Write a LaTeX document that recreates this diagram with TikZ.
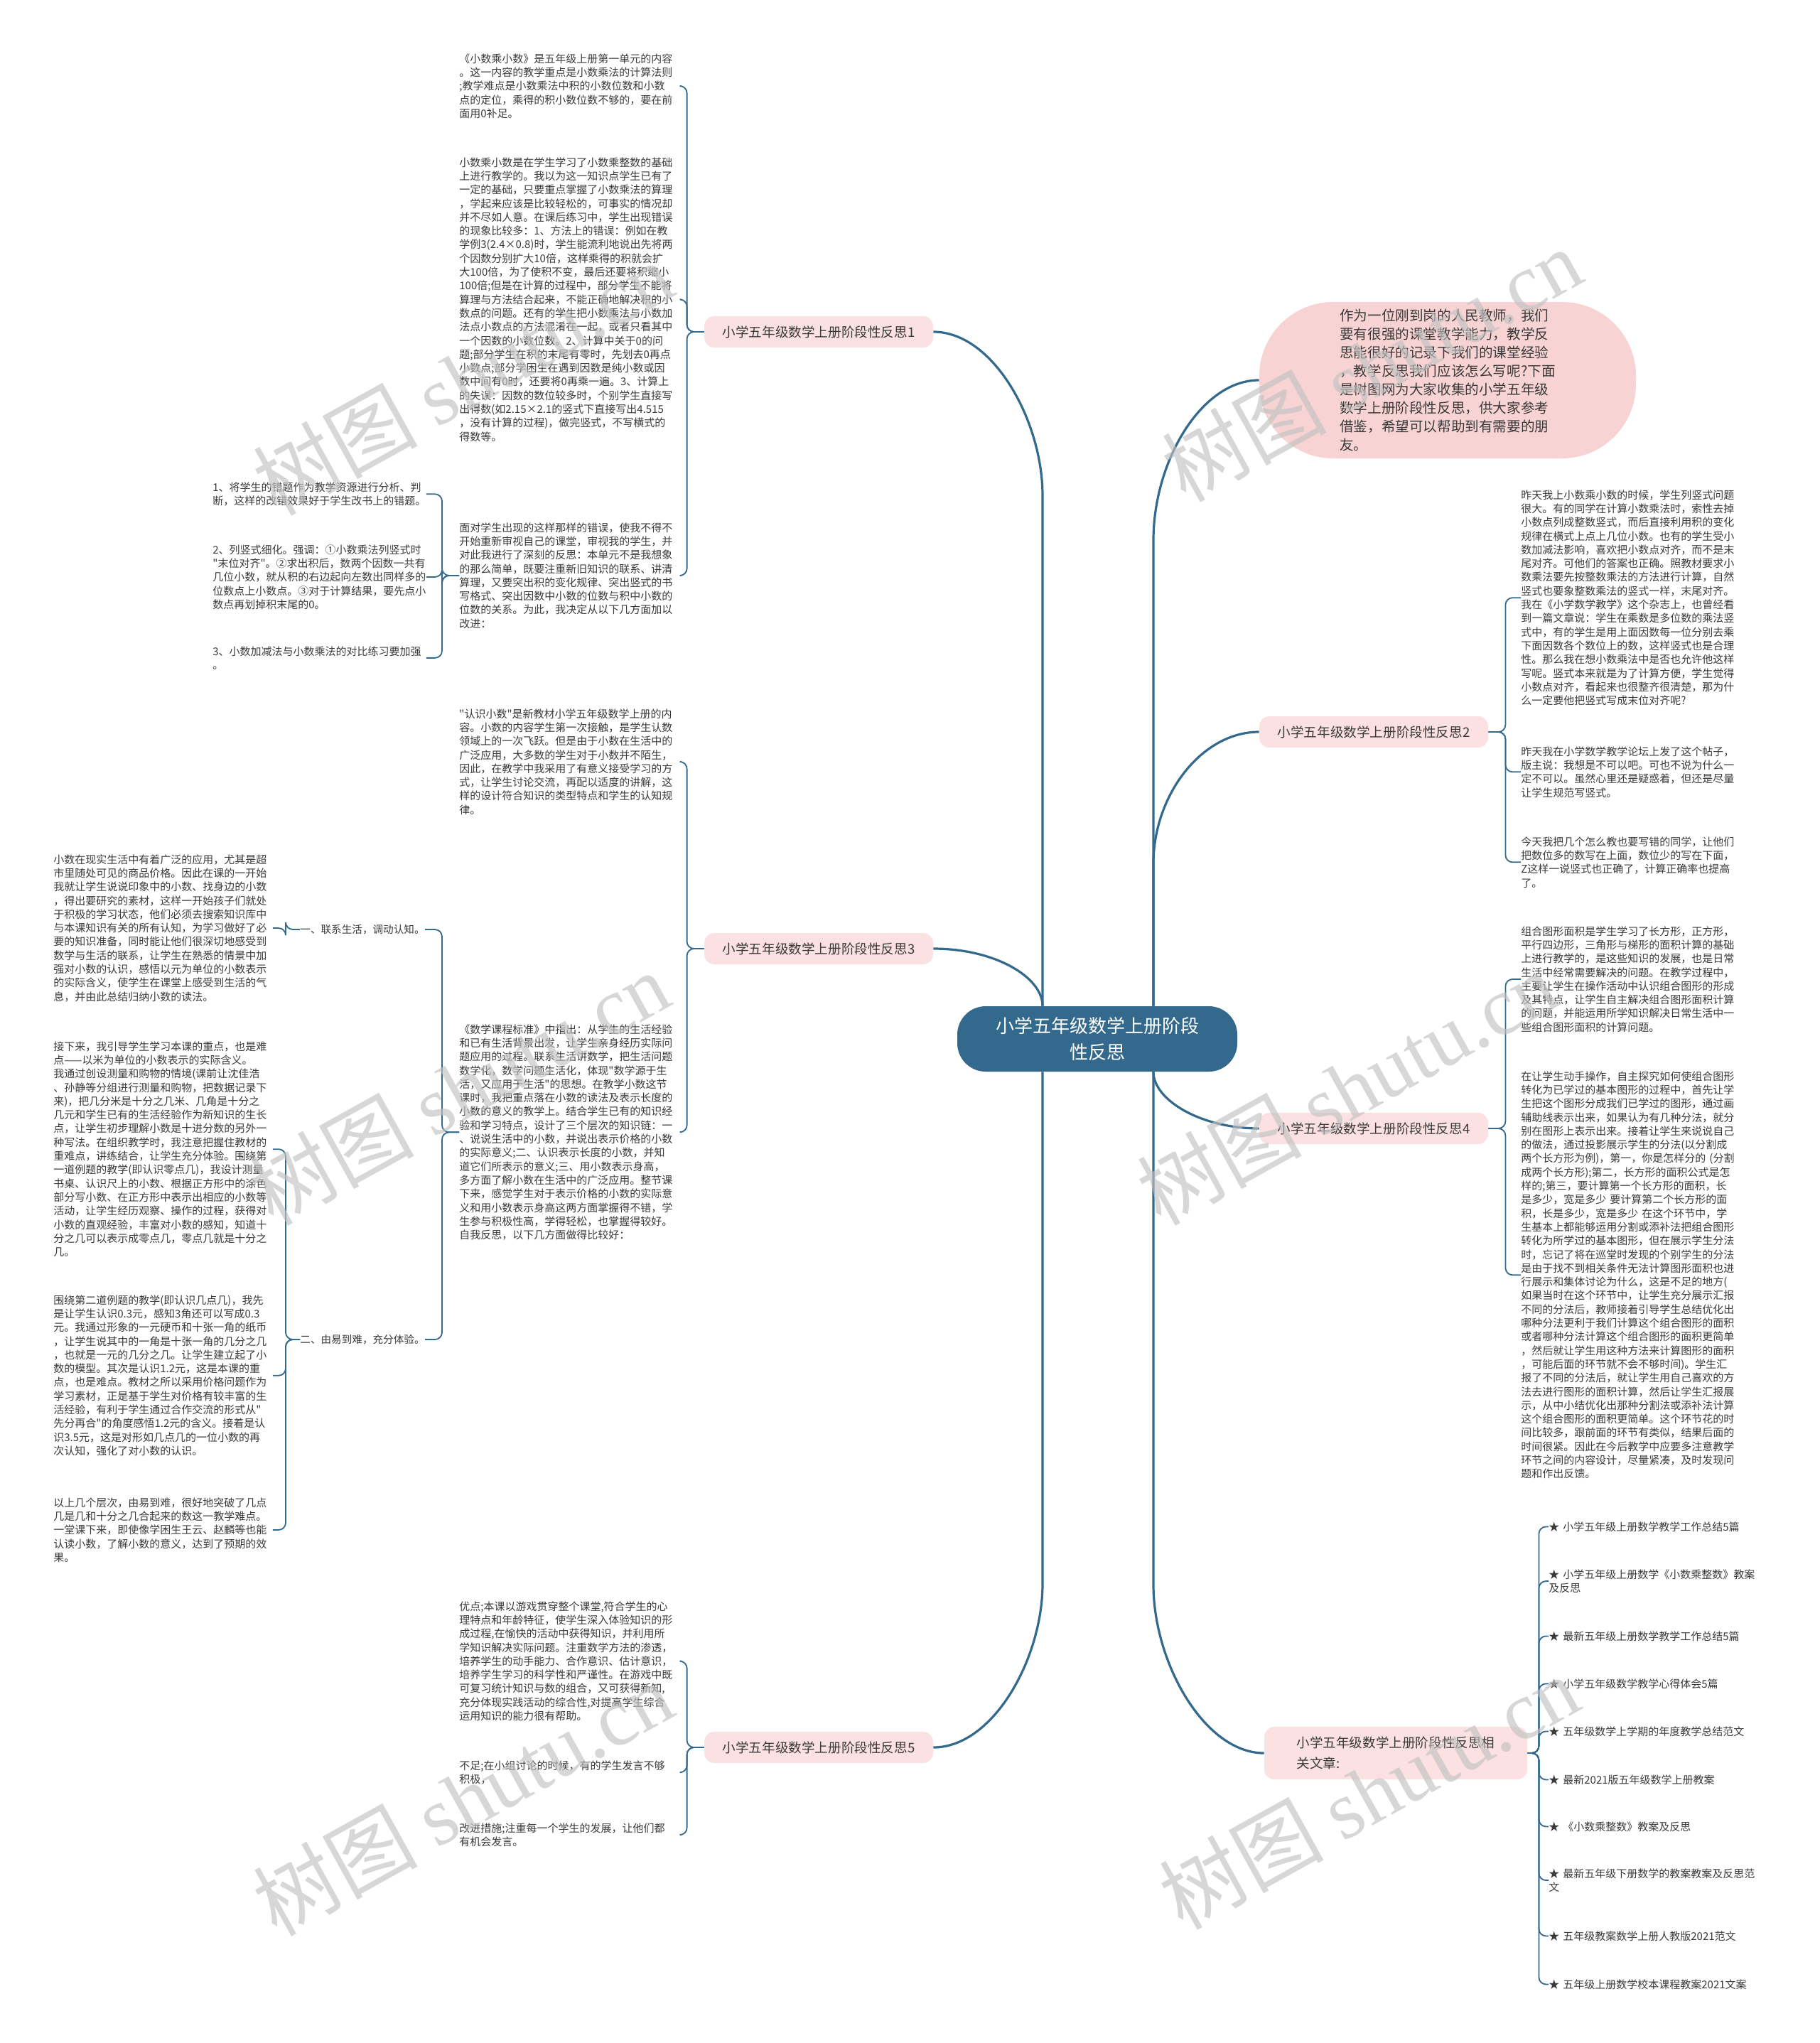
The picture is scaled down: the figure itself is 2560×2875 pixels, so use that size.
\documentclass[tikz,border=0pt]{standalone}
\usepackage{fontspec}
\setmainfont{Noto Sans CJK SC}[Ligatures=TeXOff]
\newfontfamily\markfont{Liberation Serif}[Ligatures=TeXOff]
\usetikzlibrary{calc}

\definecolor{deepTeal}{HTML}{33698D}
\definecolor{branchPink}{HTML}{FBE1E1}
\definecolor{bubblePink}{HTML}{F8D3D3}
\definecolor{inkGray}{HTML}{3A3A3A}

\begin{document}
\begin{tikzpicture}
    [x=0.5pt, y=-0.5pt,
     rootNode/.style={rounded corners=20pt, fill=deepTeal, text=white, align=center, minimum width=197pt, minimum height=46pt, font=\fontsize{13pt}{18.5pt}\selectfont},
     branchNode/.style={rounded corners=7pt, fill=branchPink, text=inkGray, minimum width=161pt, minimum height=22pt, font=\fontsize{9.3pt}{14.7pt}\selectfont},
     bubbleNode/.style={rounded corners=52pt, fill=bubblePink, text=inkGray, align=left, minimum width=265pt, minimum height=110pt, font=\fontsize{9.8pt}{13pt}\selectfont},
     leafText/.style={anchor=north west, inner sep=0pt, text width=156pt, align=left, text=inkGray, font=\fontsize{7.5pt}{9.65pt}\selectfont},
     leafLabel/.style={anchor=west, inner sep=0pt, text=inkGray, font=\fontsize{7.3pt}{9.65pt}\selectfont},
     mainLink/.style={draw=deepTeal, line width=1.6pt},
     leafLink/.style={draw=deepTeal, line width=0.9pt, rounded corners=5pt},
     toLeft/.style={leafLink, to path={(\tikztostart.east) -| ($(\tikztotarget.west)+(-#1,0)$) -- (\tikztotarget.west)}},
     toLeft/.default=24,
     toRight/.style={leafLink, to path={(\tikztostart.west) -| ($(\tikztotarget.east)+(#1,0)$) -- (\tikztotarget.east)}},
     toRight/.default=24,
     waterMark/.style={rotate=29, text=black!24, opacity=0.65, font=\fontsize{58pt}{58pt}\selectfont},
    ]
    \fill[white] (0,0) rectangle (2560,2875);
    \useasboundingbox (0,0) rectangle (2560,2875);

    \node[rootNode] (root) at (1544,1462) {小学五年级数学上册阶段\\性反思};
    \coordinate (rootNW) at ($(root.north)+(-77,0)$);
    \coordinate (rootSW) at ($(root.south)+(-77,0)$);
    \coordinate (rootNE) at ($(root.north)+(79,0)$);
    \coordinate (rootSE) at ($(root.south)+(79,0)$);

    \node[bubbleNode] (intro) at (2037,535) {作为一位刚到岗的人民教师，我们\\要有很强的课堂教学能力，教学反\\思能很好的记录下我们的课堂经验\\，教学反思我们应该怎么写呢?下面\\是树图网为大家收集的小学五年级\\数学上册阶段性反思，供大家参考\\借鉴，希望可以帮助到有需要的朋\\友。};

    \node[branchNode] (b1) at (1152,467) {小学五年级数学上册阶段性反思1};
    \node[branchNode] (b2) at (1933,1030) {小学五年级数学上册阶段性反思2};
    \node[branchNode] (b3) at (1152,1335) {小学五年级数学上册阶段性反思3};
    \node[branchNode] (b4) at (1933,1588) {小学五年级数学上册阶段性反思4};
    \node[branchNode] (b5) at (1152,2459) {小学五年级数学上册阶段性反思5};
    \node[branchNode, align=left, minimum width=185pt, minimum height=37pt] (b6) at (1964,2467) {小学五年级数学上册阶段性反思相\\关文章:};

    \draw[mainLink] (b1.east) .. controls (1398,467) and (1467,593) .. (1467,697) -- (rootNW);
    \draw[mainLink] (b3.east) .. controls (1400,1335) and (1467,1375) .. (rootNW);
    \draw[mainLink] (b5.east) .. controls (1398,2459) and (1467,2333) .. (1467,2229) -- (rootSW);
    \draw[mainLink] (intro.west) .. controls (1690,535) and (1623,650) .. (1623,760) -- (rootNE);
    \draw[mainLink] (b2.west) .. controls (1690,1030) and (1623,1120) .. (1623,1215) -- (rootNE);
    \draw[mainLink] (b4.west) .. controls (1690,1588) and (1623,1548) .. (rootSE);
    \draw[mainLink] (b6.west) .. controls (1695,2467) and (1623,2340) .. (1623,2230) -- (rootSE);

    \node[leafText] (t11) at (646,75) {《小数乘小数》是五年级上册第一单元的内容\\。这一内容的教学重点是小数乘法的计算法则\\;教学难点是小数乘法中积的小数位数和小数\\点的定位，乘得的积小数位数不够的，要在前\\面用0补足。}
        edge[toLeft] (b1);
    \node[leafText] (t12) at (646,221) {小数乘小数是在学生学习了小数乘整数的基础\\上进行教学的。我以为这一知识点学生已有了\\一定的基础，只要重点掌握了小数乘法的算理\\，学起来应该是比较轻松的，可事实的情况却\\并不尽如人意。在课后练习中，学生出现错误\\的现象比较多：1、方法上的错误：例如在教\\学例3(2.4×0.8)时，学生能流利地说出先将两\\个因数分别扩大10倍，这样乘得的积就会扩\\大100倍，为了使积不变，最后还要将积缩小\\100倍;但是在计算的过程中，部分学生不能将\\算理与方法结合起来，不能正确地解决积的小\\数点的问题。还有的学生把小数乘法与小数加\\法点小数点的方法混淆在一起，或者只看其中\\一个因数的小数位数。2、计算中关于0的问\\题;部分学生在积的末尾有零时，先划去0再点\\小数点;部分学困生在遇到因数是纯小数或因\\数中间有0时，还要将0再乘一遍。3、计算上\\的失误：因数的数位较多时，个别学生直接写\\出得数(如2.15×2.1的竖式下直接写出4.515\\，没有计算的过程)，做完竖式，不写横式的\\得数等。}
        edge[toLeft] (b1);
    \node[leafText] (t13) at (646,735) {面对学生出现的这样那样的错误，使我不得不\\开始重新审视自己的课堂，审视我的学生，并\\对此我进行了深刻的反思：本单元不是我想象\\的那么简单，既要注重新旧知识的联系、讲清\\算理，又要突出积的变化规律、突出竖式的书\\写格式、突出因数中小数的位数与积中小数的\\位数的关系。为此，我决定从以下几方面加以\\改进：}
        edge[toLeft] (b1);

    \node[leafText, text width=150pt] (t131) at (299,678) {1、将学生的错题作为教学资源进行分析、判\\断，这样的改错效果好于学生改书上的错题。}
        edge[toLeft] (t13);
    \node[leafText, text width=150pt] (t132) at (299,766) {2、列竖式细化。强调：①小数乘法列竖式时\\"末位对齐"。②求出积后，数两个因数一共有\\几位小数，就从积的右边起向左数出同样多的\\位数点上小数点。③对于计算结果，要先点小\\数点再划掉积末尾的0。}
        edge[toLeft] (t13);
    \node[leafText, text width=150pt] (t133) at (299,909) {3、小数加减法与小数乘法的对比练习要加强\\。}
        edge[toLeft] (t13);

    \node[leafText] (t31) at (646,997) {"认识小数"是新教材小学五年级数学上册的内\\容。小数的内容学生第一次接触，是学生认数\\领域上的一次飞跃。但是由于小数在生活中的\\广泛应用，大多数的学生对于小数并不陌生，\\因此，在教学中我采用了有意义接受学习的方\\式，让学生讨论交流，再配以适度的讲解，这\\样的设计符合知识的类型特点和学生的认知规\\律。}
        edge[toLeft] (b3);
    \node[leafText] (t32) at (646,1441) {《数学课程标准》中指出：从学生的生活经验\\和已有生活背景出发，让学生亲身经历实际问\\题应用的过程。联系生活讲数学，把生活问题\\数学化，数学问题生活化，体现"数学源于生\\活，又应用于生活"的思想。在教学小数这节\\课时，我把重点落在小数的读法及表示长度的\\小数的意义的教学上。结合学生已有的知识经\\验和学习特点，设计了三个层次的知识链：一\\、说说生活中的小数，并说出表示价格的小数\\的实际意义;二、认识表示长度的小数，并知\\道它们所表示的意义;三、用小数表示身高，\\多方面了解小数在生活中的广泛应用。整节课\\下来，感觉学生对于表示价格的小数的实际意\\义和用小数表示身高这两方面掌握得不错，学\\生参与积极性高，学得轻松，也掌握得较好。\\自我反思，以下几方面做得比较好：}
        edge[toLeft] (b3);

    \node[leafLabel] (t321) at (422,1308) {一、联系生活，调动认知。}
        edge[toLeft] (t32);
    \node[leafLabel] (t322) at (422,1885) {二、由易到难，充分体验。}
        edge[toLeft] (t32);

    \node[leafText, text width=154pt] (t3211) at (75,1202) {小数在现实生活中有着广泛的应用，尤其是超\\市里随处可见的商品价格。因此在课的一开始\\我就让学生说说印象中的小数、找身边的小数\\，得出要研究的素材，这样一开始孩子们就处\\于积极的学习状态，他们必须去搜索知识库中\\与本课知识有关的所有认知，为学习做好了必\\要的知识准备，同时能让他们很深切地感受到\\数学与生活的联系，让学生在熟悉的情景中加\\强对小数的认识，感悟以元为单位的小数表示\\的实际含义，使学生在课堂上感受到生活的气\\息，并由此总结归纳小数的读法。}
        edge[toLeft=20] (t321);
    \node[leafText, text width=154pt] (t3221) at (75,1465) {接下来，我引导学生学习本课的重点，也是难\\点——以米为单位的小数表示的实际含义。\\我通过创设测量和购物的情境(课前让沈佳浩\\、孙静等分组进行测量和购物，把数据记录下\\来)，把几分米是十分之几米、几角是十分之\\几元和学生已有的生活经验作为新知识的生长\\点，让学生初步理解小数是十进分数的另外一\\种写法。在组织教学时，我注意把握住教材的\\重难点，讲练结合，让学生充分体验。围绕第\\一道例题的教学(即认识零点几)，我设计测量\\书桌、认识尺上的小数、根据正方形中的涂色\\部分写小数、在正方形中表示出相应的小数等\\活动，让学生经历观察、操作的过程，获得对\\小数的直观经验，丰富对小数的感知，知道十\\分之几可以表示成零点几，零点几就是十分之\\几。}
        edge[toLeft=20] (t322);
    \node[leafText, text width=154pt] (t3222) at (75,1822) {围绕第二道例题的教学(即认识几点几)，我先\\是让学生认识0.3元，感知3角还可以写成0.3\\元。我通过形象的一元硬币和十张一角的纸币\\，让学生说其中的一角是十张一角的几分之几\\，也就是一元的几分之几。让学生建立起了小\\数的模型。其次是认识1.2元，这是本课的重\\点，也是难点。教材之所以采用价格问题作为\\学习素材，正是基于学生对价格有较丰富的生\\活经验，有利于学生通过合作交流的形式从"\\先分再合"的角度感悟1.2元的含义。接着是认\\识3.5元，这是对形如几点几的一位小数的再\\次认知，强化了对小数的认识。}
        edge[toLeft=20] (t322);
    \node[leafText, text width=154pt] (t3223) at (75,2107) {以上几个层次，由易到难，很好地突破了几点\\几是几和十分之几合起来的数这一教学难点。\\一堂课下来，即使像学困生王云、赵麟等也能\\认读小数，了解小数的意义，达到了预期的效\\果。}
        edge[toLeft=20] (t322);

    \node[leafText] (t51) at (646,2253) {优点;本课以游戏贯穿整个课堂,符合学生的心\\理特点和年龄特征，使学生深入体验知识的形\\成过程,在愉快的活动中获得知识，并利用所\\学知识解决实际问题。注重数学方法的渗透，\\培养学生的动手能力、合作意识、估计意识，\\培养学生学习的科学性和严谨性。在游戏中既\\可复习统计知识与数的组合，又可获得新知,\\充分体现实践活动的综合性,对提高学生综合\\运用知识的能力很有帮助。}
        edge[toLeft] (b5);
    \node[leafText] (t52) at (646,2477) {不足;在小组讨论的时候，有的学生发言不够\\积极，}
        edge[toLeft] (b5);
    \node[leafText] (t53) at (646,2565) {改进措施;注重每一个学生的发展，让他们都\\有机会发言。}
        edge[toLeft] (b5);

    \node[leafText] (t21) at (2140,689) {昨天我上小数乘小数的时候，学生列竖式问题\\很大。有的同学在计算小数乘法时，索性去掉\\小数点列成整数竖式，而后直接利用积的变化\\规律在横式上点上几位小数。也有的学生受小\\数加减法影响，喜欢把小数点对齐，而不是末\\尾对齐。可他们的答案也正确。照教材要求小\\数乘法要先按整数乘法的方法进行计算，自然\\竖式也要象整数乘法的竖式一样，末尾对齐。\\我在《小学数学教学》这个杂志上，也曾经看\\到一篇文章说：学生在乘数是多位数的乘法竖\\式中，有的学生是用上面因数每一位分别去乘\\下面因数各个数位上的数，这样竖式也是合理\\性。那么我在想小数乘法中是否也允许他这样\\写呢。竖式本来就是为了计算方便，学生觉得\\小数点对齐，看起来也很整齐很清楚，那为什\\么一定要他把竖式写成末位对齐呢?}
        edge[toRight] (b2);
    \node[leafText] (t22) at (2140,1050) {昨天我在小学数学教学论坛上发了这个帖子，\\版主说：我想是不可以吧。可也不说为什么一\\定不可以。虽然心里还是疑惑着，但还是尽量\\让学生规范写竖式。}
        edge[toRight] (b2);
    \node[leafText] (t23) at (2140,1177) {今天我把几个怎么教也要写错的同学，让他们\\把数位多的数写在上面，数位少的写在下面，\\Z这样一说竖式也正确了，计算正确率也提高\\了。}
        edge[toRight] (b2);

    \node[leafText] (t41) at (2140,1303) {组合图形面积是学生学习了长方形，正方形，\\平行四边形，三角形与梯形的面积计算的基础\\上进行教学的，是这些知识的发展，也是日常\\生活中经常需要解决的问题。在教学过程中，\\主要让学生在操作活动中认识组合图形的形成\\及其特点，让学生自主解决组合图形面积计算\\的问题，并能运用所学知识解决日常生活中一\\些组合图形面积的计算问题。}
        edge[toRight] (b4);
    \node[leafText] (t42) at (2140,1507) {在让学生动手操作，自主探究如何使组合图形\\转化为已学过的基本图形的过程中，首先让学\\生把这个图形分成我们已学过的图形，通过画\\辅助线表示出来，如果认为有几种分法，就分\\别在图形上表示出来。接着让学生来说说自己\\的做法，通过投影展示学生的分法(以分割成\\两个长方形为例)，第一，你是怎样分的 (分割\\成两个长方形);第二，长方形的面积公式是怎\\样的;第三，要计算第一个长方形的面积，长\\是多少，宽是多少 要计算第二个长方形的面\\积，长是多少，宽是多少 在这个环节中，学\\生基本上都能够运用分割或添补法把组合图形\\转化为所学过的基本图形，但在展示学生分法\\时，忘记了将在巡堂时发现的个别学生的分法\\是由于找不到相关条件无法计算图形面积也进\\行展示和集体讨论为什么，这是不足的地方(\\如果当时在这个环节中，让学生充分展示汇报\\不同的分法后，教师接着引导学生总结优化出\\哪种分法更利于我们计算这个组合图形的面积\\或者哪种分法计算这个组合图形的面积更简单\\，然后就让学生用这种方法来计算图形的面积\\，可能后面的环节就不会不够时间)。学生汇\\报了不同的分法后，就让学生用自己喜欢的方\\法去进行图形的面积计算，然后让学生汇报展\\示，从中小结优化出那种分割法或添补法计算\\这个组合图形的面积更简单。这个环节花的时\\间比较多，跟前面的环节有类似，结果后面的\\时间很紧。因此在今后教学中应要多注意教学\\环节之间的内容设计，尽量紧凑，及时发现问\\题和作出反馈。}
        edge[toRight] (b4);

    \node[leafText] (l1) at (2179,2141) {★ 小学五年级上册数学教学工作总结5篇} edge[toRight=16] (b6);
    \node[leafText] (l2) at (2179,2208) {★ 小学五年级上册数学《小数乘整数》教案\\及反思} edge[toRight=16] (b6);
    \node[leafText] (l3) at (2179,2295) {★ 最新五年级上册数学教学工作总结5篇} edge[toRight=16] (b6);
    \node[leafText] (l4) at (2179,2362) {★ 小学五年级数学教学心得体会5篇} edge[toRight=16] (b6);
    \node[leafText] (l5) at (2179,2429) {★ 五年级数学上学期的年度教学总结范文} edge[toRight=16] (b6);
    \node[leafText] (l6) at (2179,2497) {★ 最新2021版五年级数学上册教案} edge[toRight=16] (b6);
    \node[leafText] (l7) at (2179,2563) {★ 《小数乘整数》教案及反思} edge[toRight=16] (b6);
    \node[leafText] (l8) at (2179,2629) {★ 最新五年级下册数学的教案教案及反思范\\文} edge[toRight=16] (b6);
    \node[leafText] (l9) at (2179,2717) {★ 五年级教案数学上册人教版2021范文} edge[toRight=16] (b6);
    \node[leafText] (l10) at (2179,2785) {★ 五年级上册数学校本课程教案2021文案} edge[toRight=16] (b6);

    \node[waterMark] (wm1) at (651,532) {树图 {\markfont shutu.cn}};
    \node[waterMark] (wm2) at (1930,513) {树图 {\markfont shutu.cn}};
    \node[waterMark] (wm3) at (646,1531) {树图 {\markfont shutu.cn}};
    \node[waterMark] (wm4) at (1895,1531) {树图 {\markfont shutu.cn}};
    \node[waterMark] (wm5) at (651,2531) {树图 {\markfont shutu.cn}};
    \node[waterMark] (wm6) at (1926,2522) {树图 {\markfont shutu.cn}};

\end{tikzpicture}
\end{document}
